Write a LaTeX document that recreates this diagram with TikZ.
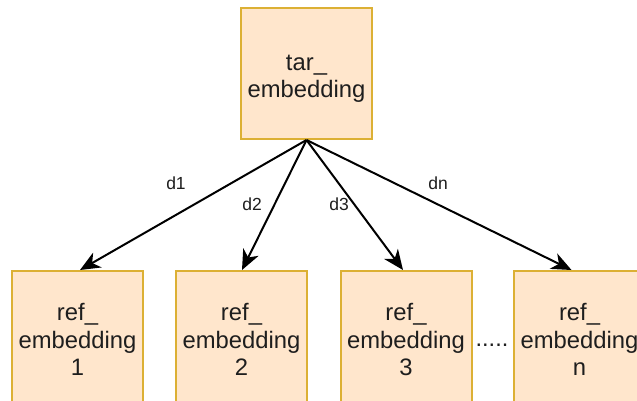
\documentclass[tikz,border=0pt]{standalone}
\usepackage{fontspec}
\setmainfont{Liberation Sans}
\usetikzlibrary{arrows.meta}
\definecolor{boxfill}{RGB}{255,230,204}
\definecolor{boxline}{RGB}{220,176,52}
\definecolor{txt}{RGB}{30,30,30}
\newcommand{\toppad}[1]{\rule{0pt}{#1}}
\tikzset{
  embbox/.style={draw=boxline, fill=boxfill, line width=2pt, minimum width=131pt, minimum height=131pt,
    inner sep=0pt, align=center, text=txt, font=\fontsize{23.8}{27.5}\selectfont},
  conn/.style={line width=2pt, -{Stealth[length=20pt,width=17pt,inset=6pt]}},
  dlabel/.style={text=txt, font=\fontsize{17.5}{20}\selectfont, inner sep=0pt}
}
\begin{document}
\begin{tikzpicture}[x=1pt,y=-1pt]
\clip (0,0) rectangle (637,400);
\fill[white] (0,0) rectangle (637,400);
\node[embbox] (t) at (306.5,73.5) {\toppad{26pt}tar\_\\embedding};
\node[embbox] (r1) at (77.5,336.5) {\toppad{23.5pt}ref\_\\embedding\\1};
\node[embbox] (r2) at (241.5,336.5) {\toppad{23.5pt}ref\_\\embedding\\2};
\node[embbox] (r3) at (406,336.5) {\toppad{23.5pt}ref\_\\embedding\\3};
\node[embbox] (rn) at (579.5,336.5) {\toppad{23.5pt}ref\_\\embedding\\n};
\draw[conn] (t.south) -- ([xshift=2.5pt]r1.north);
\draw[conn] (t.south) -- ([xshift=0.5pt]r2.north);
\draw[conn] (t.south) -- ([xshift=-3pt]r3.north);
\draw[conn] (t.south) -- ([xshift=-8pt]rn.north);
\node[dlabel] (l1) at (176,183) {d1};
\node[dlabel] (l2) at (252,204) {d2};
\node[dlabel] (l3) at (339,204) {d3};
\node[dlabel] (ln) at (438,183) {dn};
\node[text=txt, font=\fontsize{23.5}{27.5}\selectfont, inner sep=0pt, anchor=base] (dots) at (492,346.5) {.....};
\end{tikzpicture}
\end{document}
